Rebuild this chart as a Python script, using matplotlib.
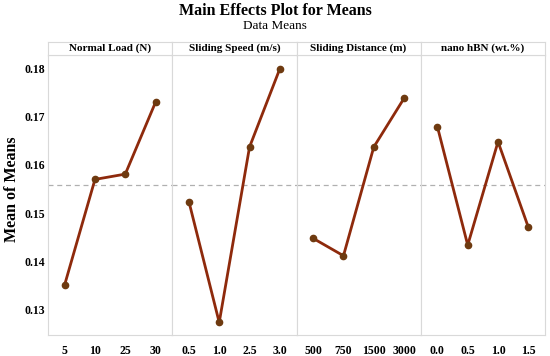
import matplotlib
matplotlib.use("Agg")
import matplotlib.pyplot as plt
import numpy as np

plt.rcParams['font.family'] = ['Liberation Serif', 'DejaVu Serif']

factors = ["Normal Load (N)", "Sliding Speed (m/s)", "Sliding Distance (m)", "nano hBN (wt.%)"]
load_levels = ["5", "10", "25", "30"]
speed_levels = ["0.5", "1.0", "2.5", "3.0"]
distance_levels = ["500", "750", "1500", "3000"]
hbn_levels = ["0.0", "0.5", "1.0", "1.5"]
load_means = [0.1352, 0.1570, 0.1581, 0.1730]
speed_means = [0.1524, 0.1274, 0.1637, 0.1799]
distance_means = [0.1448, 0.1412, 0.1637, 0.1738]
hbn_means = [0.1679, 0.1434, 0.1648, 0.1471]
y_ticks = [0.13, 0.14, 0.15, 0.16, 0.17, 0.18]

levels = [load_levels, speed_levels, distance_levels, hbn_levels]
means = [load_means, speed_means, distance_means, hbn_means]
grand_mean = float(np.mean(load_means + speed_means + distance_means + hbn_means))

W, H = 550, 356
fig = plt.figure(figsize=(W / 100, H / 100), dpi=100)

left_px, right_px = 48, 545
top_px, bot_px = 55, 335
head_top = 42
pw = (right_px - left_px) / 4
frame_c = "#d9d9d9"
line_c = "#8e2a0c"
mark_c = "#6e3a10"

fig.text(0.5, 1 - 11 / H, "Main Effects Plot for Means", ha="center", va="center",
         fontsize=11.5, fontweight="bold")
fig.text(0.5, 1 - 26 / H, "Data Means", ha="center", va="center", fontsize=9.5)

for i in range(4):
    x0 = (left_px + i * pw) / W
    ax = fig.add_axes([x0, 1 - bot_px / H, pw / W, (bot_px - top_px) / H])
    hx = fig.add_axes([x0, 1 - top_px / H, pw / W, (top_px - head_top) / H])
    hx.set_xticks([]); hx.set_yticks([])
    for s in hx.spines.values():
        s.set_color(frame_c); s.set_linewidth(0.8)
    hx.text(0.5, 0.5, factors[i], ha="center", va="center", fontsize=8,
            fontweight="bold", transform=hx.transAxes)

    xs = np.arange(1, 5)
    ax.plot(xs, means[i], color=line_c, lw=2.0, zorder=3)
    ax.plot(xs, means[i], 'o', color=mark_c, ms=4.5, zorder=4)
    ax.axhline(grand_mean, color="#b0b0b0", ls=(0, (4, 3)), lw=0.9, zorder=1)
    ax.set_xlim(0.45, 4.55)
    ax.set_ylim(0.1248, 0.18275)
    ax.set_xticks(xs)
    ax.set_xticklabels(levels[i], fontsize=8.5, fontweight="bold")
    for s in ax.spines.values():
        s.set_color(frame_c); s.set_linewidth(0.8)
    ax.tick_params(axis="x", length=0, pad=7)
    if i == 0:
        ax.set_yticks(y_ticks)
        ax.set_yticklabels([f"{v:.2f}" for v in y_ticks], fontsize=8.5, fontweight="bold")
        ax.tick_params(axis="y", length=0, pad=2)
        ax.set_ylabel("Mean of Means", fontsize=11.5, fontweight="bold")
        ax.yaxis.set_label_coords(-0.225, 0.52)
    else:
        ax.set_yticks([])

fig.savefig("out.png", dpi=100)
